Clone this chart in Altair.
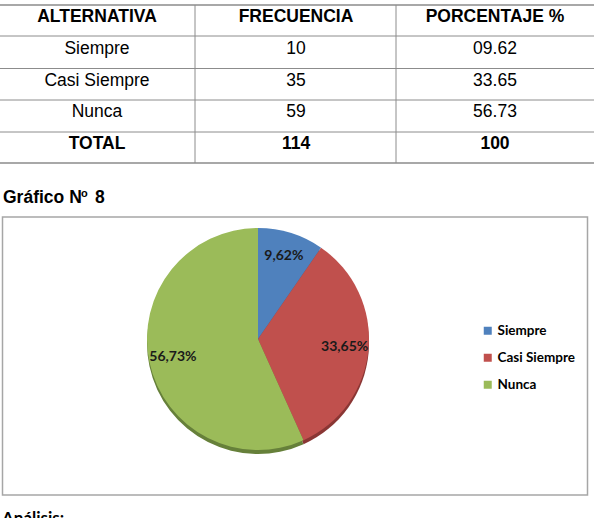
import altair as alt
import pandas as pd

# ---- data ----
header = ["ALTERNATIVA", "FRECUENCIA", "PORCENTAJE %"]
categories = ["Siempre", "Casi Siempre", "Nunca"]
frecuencia = [10, 35, 59]
porcentaje_txt = ["09.62", "33.65", "56.73"]
porcentaje = [9.62, 33.65, 56.73]
pie_labels = ["9,62%", "33,65%", "56,73%"]
total_row = ["TOTAL", "114", "100"]

colors = ["#4f81bd", "#c0504d", "#9bbb59"]
side_colors = ["#3b5f8a", "#8a3634", "#66803a"]

rows = ["header"] + categories + ["total"]
cells = []
for j in range(3):
    cells.append({"row": "header", "col": header[j], "text": header[j], "bold": True})
for i, c in enumerate(categories):
    vals = [c, str(frecuencia[i]), porcentaje_txt[i]]
    for j in range(3):
        cells.append({"row": c, "col": header[j], "text": vals[j], "bold": False})
for j in range(3):
    cells.append({"row": "total", "col": header[j], "text": total_row[j], "bold": True})
table_df = pd.DataFrame(cells)

pie_df = pd.DataFrame({"cat": categories, "pct": porcentaje,
                       "label": pie_labels, "idx": [0, 1, 2]})
one = pd.DataFrame({"k": [0]})

# ---- table ----
xs = alt.X("col:N", scale=alt.Scale(type="point", domain=header, range=[97, 495], padding=0), axis=None)
ys = alt.Y("row:N", scale=alt.Scale(type="point", domain=rows, range=[17, 144], padding=0), axis=None)

tbl_bold = alt.Chart(table_df).transform_filter("datum.bold").mark_text(
    font="Liberation Sans", fontSize=17.5, fontWeight="bold", color="black", baseline="middle"
).encode(x=xs, y=ys, text="text:N")
tbl_reg = alt.Chart(table_df).transform_filter("!datum.bold").mark_text(
    font="Liberation Sans", fontSize=17.5, color="black", baseline="middle"
).encode(x=xs, y=ys, text="text:N")

layers = []
for yv, w, c in [(5, 2, "#a8a8a8"), (36, 1, "#8c8c8c"), (68.5, 1, "#8c8c8c"),
                 (100, 1, "#8c8c8c"), (132, 1, "#8c8c8c"), (163, 2, "#a8a8a8")]:
    layers.append(alt.Chart(one).mark_rule(color=c, strokeWidth=w).encode(
        x=alt.value(0), x2=alt.value(594), y=alt.value(yv)))
for xv in [195, 396]:
    layers.append(alt.Chart(one).mark_rule(color="#8c8c8c", strokeWidth=1).encode(
        x=alt.value(xv), y=alt.value(5), y2=alt.value(163)))
layers += [tbl_bold, tbl_reg]

# ---- title ----
layers.append(alt.Chart(one).mark_text(text="Gráfico N", font="Liberation Sans", fontSize=17.5,
    fontWeight="bold", align="left", baseline="alphabetic", color="black").encode(
    x=alt.value(3), y=alt.value(203)))
layers.append(alt.Chart(one).mark_text(text="o", font="Liberation Sans", fontSize=11,
    fontWeight="bold", align="left", baseline="alphabetic", color="black").encode(
    x=alt.value(81), y=alt.value(197)))
layers.append(alt.Chart(one).mark_text(text="8", font="Liberation Sans", fontSize=17.5,
    fontWeight="bold", align="left", baseline="alphabetic", color="black").encode(
    x=alt.value(95), y=alt.value(203)))

# ---- chart box ----
layers.append(alt.Chart(one).mark_rect(fill="white", stroke="#a6a6a6", strokeWidth=1.5).encode(
    x=alt.value(2.5), x2=alt.value(587.5), y=alt.value(217), y2=alt.value(495)))

# ---- pie ----
theta = alt.Theta("pct:Q", stack=True)
order = alt.Order("idx:Q")
cx, cy, R = 258, 339, 111
shadow = alt.Chart(pie_df).mark_arc(outerRadius=R).encode(
    theta=theta, order=order,
    color=alt.Color("cat:N", scale=alt.Scale(domain=categories, range=side_colors), legend=None),
    x=alt.value(cx), y=alt.value(cy + 4))
pie = alt.Chart(pie_df).mark_arc(outerRadius=R).encode(
    theta=theta, order=order,
    color=alt.Color("cat:N", scale=alt.Scale(domain=categories, range=colors),
                    legend=alt.Legend(title=None, orient="none", legendX=481, legendY=324,
                                      symbolType="square", symbolSize=64, symbolStrokeWidth=0,
                                      labelFont="Lato", labelFontWeight="bold", labelFontSize=13.5,
                                      labelColor="black", labelOffset=3, rowPadding=12, padding=0)),
    x=alt.value(cx), y=alt.value(cy))
labels = alt.Chart(pie_df).mark_text(radius=87, font="Lato", fontWeight="bold", fontSize=14,
                                     color="#1a1a1a").encode(
    theta=theta, order=order, text="label:N", x=alt.value(cx), y=alt.value(cy))

pie_layer = alt.layer(shadow, pie, labels).resolve_scale(color="independent")

# ---- analysis heading (cut off at the bottom, as in the page) ----
ana = alt.Chart(one).mark_text(text="Análisis:", font="Lato", fontSize=17, fontWeight="bold",
                               align="left", baseline="alphabetic", color="black").encode(
    x=alt.value(2), y=alt.value(524))

chart = alt.layer(*layers, pie_layer, ana).properties(
    width=594, height=518, padding=0, autosize=alt.AutoSizeParams(type="none"),
    background="white"
).configure_view(stroke=None)

chart.save("out.html", embed_options={"renderer": "svg", "actions": False})
